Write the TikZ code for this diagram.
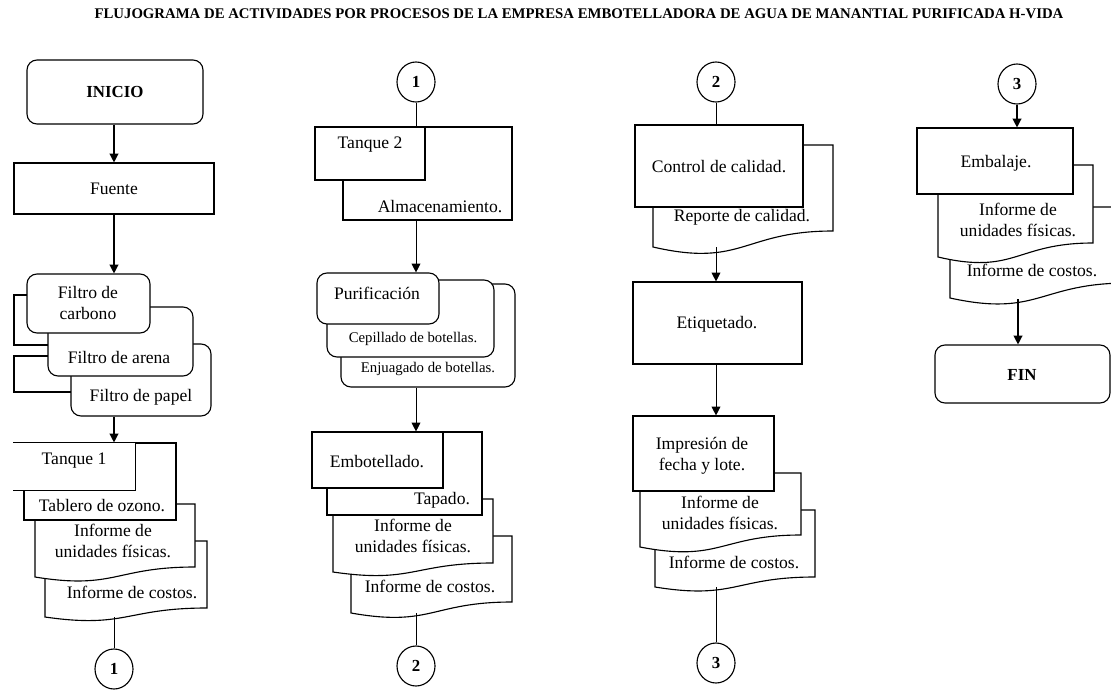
\documentclass[tikz,border=0pt]{standalone}
\usepackage{fontspec}
\setmainfont{Liberation Serif}
\usetikzlibrary{arrows.meta,positioning,fit,shapes.geometric}

% document symbol: x1, top, x2, right end of wave, left end of wave
\newcommand\docshape[5]{%
  \path[doc] (#1,#2) -- (#3,#2) -- (#3,#4)
    .. controls ({(#1+#3)/2},#4) and ({(#1+#3)/2},{#4+2.3*(#5-#4)}) .. (#1,#5) -- cycle;}

\begin{document}
\begin{tikzpicture}[x=0.025cm, y=-0.025cm, line width=0.8pt,
    every node/.style={font=\fontsize{12.5}{15}\selectfont},
    box/.style={draw, fill=white, inner sep=0pt},
    rbox/.style={box, rounded corners=0.25cm},
    conn/.style={ellipse, draw, minimum width=0.95cm, minimum height=1cm, inner sep=0pt, font=\bfseries\fontsize{12}{14}\selectfont},
    doc/.style={draw, fill=white},
    txt/.style={align=center, inner sep=0pt},
    bold/.style={font=\bfseries\fontsize{12}{14}\selectfont},
    small/.style={font=\fontsize{10.5}{12}\selectfont},
    arrow/.style={-{Triangle[length=0.22cm,width=0.22cm]}, line width=0.9pt},
    thinarrow/.style={arrow, line width=0.6pt},
    link/.style={line width=0.6pt}
]
\useasboundingbox (0,0) rectangle (1111,690);
\clip (0,0) rectangle (1111,690);

\node[font=\bfseries\fontsize{10.5}{12}\selectfont] (title) at (579,14) {FLUJOGRAMA DE ACTIVIDADES POR PROCESOS DE LA EMPRESA EMBOTELLADORA DE AGUA DE MANANTIAL PURIFICADA H-VIDA};

\coordinate (axA) at (114,0);
\coordinate (axB) at (416,0);
\coordinate (axC) at (716,0);

% column 1
\node[rbox, fit={(27,60)(203,124)}] (inicio) {};
\node[txt, bold] (tinicio) at (115,92) {INICIO};
\node[box, fit={(14,163)(214,214)}] (fuente) {};
\node[txt] (tfuente) at (114,189) {Fuente};
\draw (27,295) -- (14,295) -- (14,345) -- (48,345);
\draw (48,356) -- (14,356) -- (14,392) -- (71,392);
\node[rbox, fit={(71,344)(211,416)}] (papel) {};
\node[txt] (tpapel) at (141,397) {Filtro de papel};
\node[rbox, fit={(48,307)(193,376)}] (arena) {};
\node[txt] (tarena) at (119,357) {Filtro de arena};
\node[rbox, fit={(27,274)(150,333)}] (carbono) {};
\node[txt] (tcarb) at (88,303) {Filtro de\\carbono};
\docshape{45}{541}{207}{608}{617}
\node[txt] (tcst1) at (132,592) {Informe de costos.};
\docshape{35}{504}{195}{567}{577}
\node[txt] (tund1) at (113,541) {Informe de\\unidades físicas.};
\node[box, fit={(24,443)(176,520)}] (tablero) {};
\node[txt] (ttab) at (102,506) {Tablero de ozono.};
\node[fill=white, inner sep=0pt, fit={(14,443)(135,490)}] (tq1) {};
\draw (tq1.north west) -- (tq1.north east) -- (tq1.south east) -- (tq1.south west);
\node[txt] (ttq1) at (74,461) {Tanque 1};
\coordinate (d1) at (114,617);
\node[conn] (o1) at (114,669) {1};
\draw[arrow] (inicio.south -| axA) -- (fuente.north -| axA);
\draw[arrow] (fuente.south -| axA) -- (carbono.north -| axA);
\draw[arrow] (papel.south -| axA) -- (tablero.north -| axA);
\draw[link] (d1) -- (o1);

% column 2
\node[conn] (o1b) at (416,82) {1};
\node[box, fit={(343,127)(512,220)}] (alm) {};
\node[txt] (talm) at (440,207) {Almacenamiento.};
\node[box, fit={(315,127)(425,180)}] (tq2) {};
\node[txt] (ttq2) at (370,145) {Tanque 2};
\node[rbox, fit={(341,284)(515,387)}] (enj) {};
\node[txt, small] (tenj) at (428,369) {Enjuagado de botellas.};
\node[rbox, fit={(327,280)(494,357)}] (cep) {};
\node[txt, small] (tcep) at (413,339) {Cepillado de botellas.};
\node[rbox, fit={(317,273)(439,324)}] (puri) {};
\node[txt] (tpuri) at (377,293) {Purificación};
\docshape{351}{536}{512}{602}{613}
\node[txt] (tcst2) at (430,586) {Informe de costos.};
\docshape{333}{499}{493}{563}{572}
\node[txt] (tund2) at (413,536) {Informe de\\unidades físicas.};
\node[box, fit={(327,432)(482,515)}] (tap) {};
\node[txt] (ttap) at (442,500) {Tapado.};
\node[box, fit={(312,432)(443,488)}] (embot) {};
\node[txt] (tembot) at (377,462) {Embotellado.};
\coordinate (d2) at (416,613);
\node[conn] (o2) at (416,666) {2};
\draw[link] (o1b) -- (o1b |- tq2.north);
\draw[thinarrow] (alm.south -| axB) -- (puri.north -| axB);
\draw[thinarrow] (enj.south -| axB) -- (embot.north -| axB);
\draw[link] (d2) -- (o2);

% column 3
\node[conn] (o2b) at (716,82) {2};
\docshape{653}{145}{833}{231}{247}
\node[txt] (trep) at (742,217) {Reporte de calidad.};
\node[box, fit={(635,125)(803,207)}] (ctrl) {};
\node[txt] (tctrl) at (719,167) {Control de calidad.};
\coordinate (r3) at (716,247);
\node[box, fit={(633,282)(802,364)}] (etiq) {};
\node[txt] (tetiq) at (717,324) {Etiquetado.};
\docshape{655}{510}{815}{577}{587}
\node[txt] (tcst3) at (734,562) {Informe de costos.};
\docshape{640}{473}{801}{535}{547}
\node[txt] (tund3) at (720,513) {Informe de\\unidades físicas.};
\node[box, fit={(633,416)(774,491)}] (impr) {};
\node[txt] (timpr) at (702,456) {Impresión de\\fecha y lote.};
\coordinate (d3) at (716,587);
\node[conn] (o3) at (716,663) {3};
\draw[link] (o2b) -- (o2b |- ctrl.north);
\draw[thinarrow] (r3) -- (r3 |- etiq.north);
\draw[thinarrow] (etiq.south -| axC) -- (impr.north -| axC);
\draw[link] (d3) -- (o3);

% column 4
\node[conn] (o3b) at (1017,84) {3};
\docshape{950}{207}{1128}{283}{298}
\node[txt] (tcst4) at (1032,270) {Informe de costos.};
\docshape{938}{165}{1093}{243}{257}
\node[txt] (tund4) at (1018,220) {Informe de\\unidades físicas.};
\node[box, fit={(917,128)(1073,194)}] (emb) {};
\node[txt] (temb) at (996,163) {Embalaje.};
\node[rbox, fit={(935,345)(1110,403)}] (fin) {};
\node[txt, bold] (tfin) at (1022,375) {FIN};
\coordinate (d4) at (1018,299);
\draw[arrow] (o3b) -- (o3b |- emb.north);
\draw[arrow] (d4) -- (d4 |- fin.north);
\end{tikzpicture}
\end{document}
